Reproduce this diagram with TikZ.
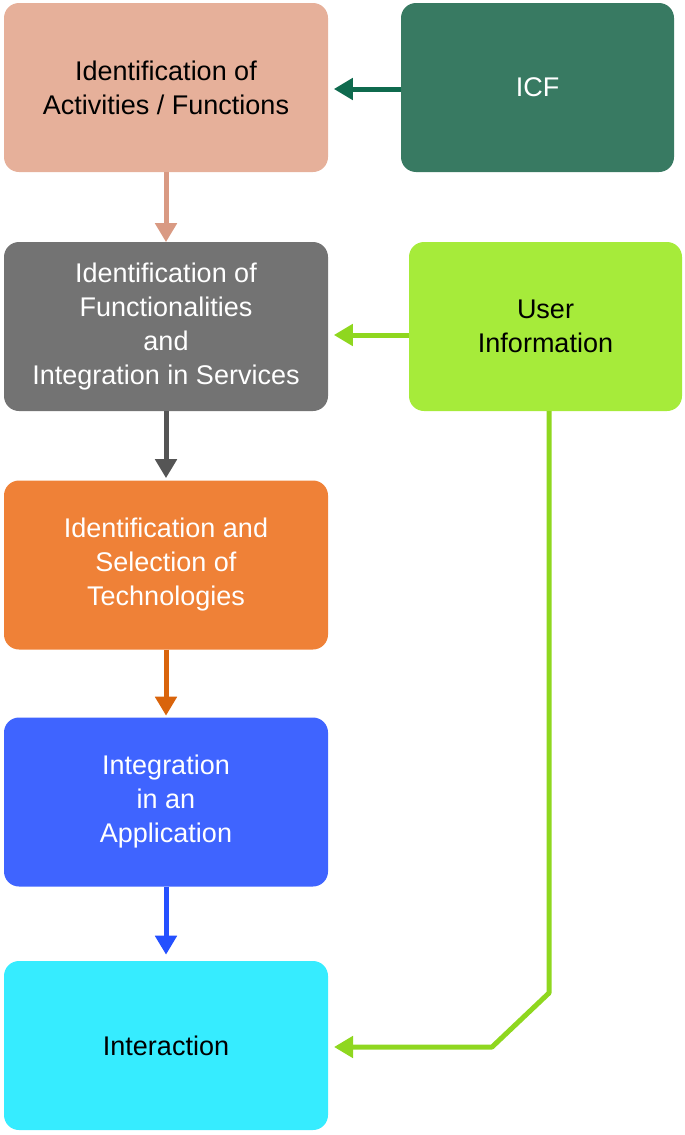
\documentclass[tikz,border=0pt]{standalone}
\usepackage{fontspec}
\setmainfont{Liberation Sans}
\usetikzlibrary{arrows.meta}
\definecolor{salmon}{HTML}{E6B09A}
\definecolor{salmonarr}{HTML}{D99A83}
\definecolor{icf}{HTML}{387A62}
\definecolor{icfarr}{HTML}{0F6A4E}
\definecolor{graybox}{HTML}{737373}
\definecolor{grayarr}{HTML}{555555}
\definecolor{userc}{HTML}{A6EB3A}
\definecolor{userarr}{HTML}{8FD71F}
\definecolor{orangebox}{HTML}{EF8137}
\definecolor{orangearr}{HTML}{D9640C}
\definecolor{bluebox}{HTML}{3F64FF}
\definecolor{bluearr}{HTML}{2450FF}
\definecolor{cyanbox}{HTML}{36ECFF}
\begin{document}
\begin{tikzpicture}[x=1pt,y=-1pt,
  box/.style={rounded corners=15pt, minimum width=324pt, minimum height=169pt,
    inner sep=0pt, align=center, font=\fontsize{27}{34}\selectfont},
  sidebox/.style={box, minimum width=273pt},
  conn/.style={line width=5pt, -{Triangle[width=21pt,length=19pt]}}]
\useasboundingbox (0,0) rectangle (685,1135);
\node[box, fill=salmon, text=black] (a) at (166,87.5) {Identification of\\Activities / Functions};
\node[sidebox, fill=icf, text=white] (icf) at (537.5,87.5) {ICF};
\node[box, fill=graybox, text=white] (b) at (166,326.5) {Identification of\\Functionalities\\and\\Integration in Services};
\node[sidebox, fill=userc, text=black] (u) at (545.5,326.5) {User\\Information};
\node[box, fill=orangebox, text=white] (c) at (166,565) {Identification and\\Selection of\\Technologies};
\node[box, fill=bluebox, text=white] (d) at (166,802) {Integration\\in an\\Application};
\node[box, fill=cyanbox, text=black] (e) at (166,1045.5) {Interaction};
\draw[conn, salmonarr] (a.south) -- ++(0,70);
\draw[conn, icfarr] (icf.west |- 0,89) -- ++(-67,0);
\draw[conn, userarr] (u.west |- 0,335) -- ++(-75,0);
\draw[conn, grayarr] (b.south) -- ++(0,67);
\draw[conn, orangearr] (c.south) -- ++(0,66);
\draw[conn, bluearr] (d.south) -- ++(0,68);
\coordinate (k1) at (549,993);
\coordinate (k2) at (492,1047);
\draw[conn, userarr, line width=5pt, line join=round] (u.south -| 549,0) -- (k1) -- (k2) -- (334,1047);
\end{tikzpicture}
\end{document}
